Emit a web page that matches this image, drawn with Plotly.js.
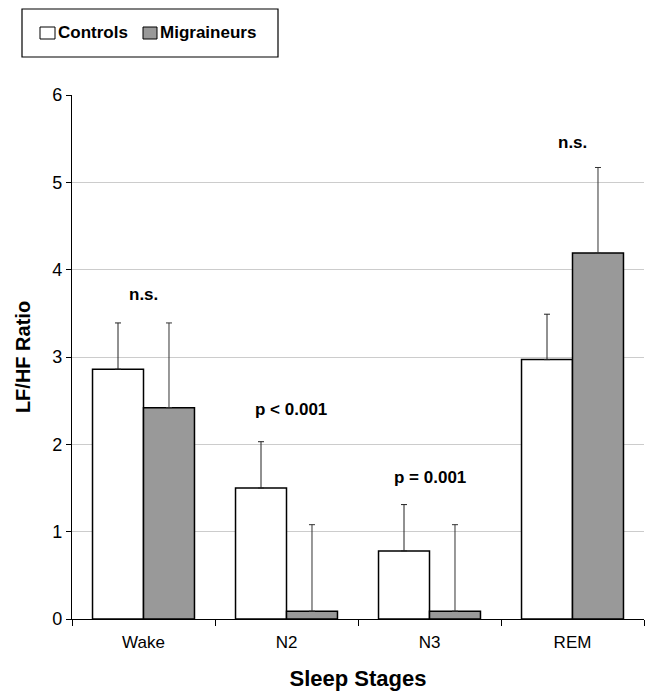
<!DOCTYPE html>
<html>
<head>
<meta charset="utf-8">
<script src="https://cdn.plot.ly/plotly-3.0.1.min.js"></script>
<style>html,body{margin:0;padding:0;background:#fff;}#chart{width:645px;height:696px;}</style>
</head>
<body>
<div id="chart"></div>
<script>
const stages = ["Wake", "N2", "N3", "REM"];
const controls = [2.86, 1.50, 0.78, 2.97];
const controlsErr = [0.53, 0.53, 0.53, 0.52];
const migraineurs = [2.42, 0.09, 0.09, 4.19];
const migraineursErr = [0.97, 0.99, 0.99, 0.98];
const sigLabels = ["n.s.", "p < 0.001", "p = 0.001", "n.s."];
const sigY = [3.72, 2.40, 1.62, 5.46];
const seriesNames = ["Controls", "Migraineurs"];
const seriesColors = ["#ffffff", "#999999"];
const zeros = stages.map(() => 0);

const font = "Liberation Sans, Arial, sans-serif";
const W = 645, H = 696;
const M = {l: 72, r: 1, t: 95, b: 77};
const plotW = W - M.l - M.r, plotH = H - M.t - M.b;
const px = v => (v - M.l) / plotW;          // pixel x -> paper x
const py = v => (H - M.b - v) / plotH;      // pixel y -> paper y

const traces = [
  {
    type: "bar", name: seriesNames[0], x: stages, y: controls, showlegend: false,
    marker: {color: seriesColors[0], line: {color: "#000000", width: 1.5}},
    error_y: {type: "data", symmetric: false, array: controlsErr, arrayminus: zeros,
              color: "#222222", thickness: 1, width: 3}
  },
  {
    type: "bar", name: seriesNames[1], x: stages, y: migraineurs, showlegend: false,
    marker: {color: seriesColors[1], line: {color: "#000000", width: 1.5}},
    error_y: {type: "data", symmetric: false, array: migraineursErr, arrayminus: zeros,
              color: "#333333", thickness: 1, width: 3}
  }
];

const annotations = stages.map((s, i) => ({
  x: s, y: sigY[i], xref: "x", yref: "y", text: sigLabels[i], showarrow: false,
  xshift: i === 1 ? 4 : 0,
  font: {family: font, size: 17, color: "#000", weight: "bold"}
}));

// Legend (boxed, symbols tight against labels as in the reference)
const legendItems = [
  {sq: [40, 55], textX: 56},
  {sq: [143, 157], textX: 158}
];
const shapes = [
  {type: "rect", xref: "paper", yref: "paper", x0: px(22), x1: px(278), y0: py(57), y1: py(9),
   line: {color: "#000", width: 1.2}, fillcolor: "#fff", layer: "above"}
];
legendItems.forEach((it, i) => {
  shapes.push({type: "rect", xref: "paper", yref: "paper", x0: px(it.sq[0]), x1: px(it.sq[1]),
    y0: py(39), y1: py(27), line: {color: "#000", width: 1}, fillcolor: seriesColors[i], layer: "above"});
  annotations.push({xref: "paper", yref: "paper", x: px(it.textX), y: py(33), xanchor: "left", yanchor: "middle",
    text: seriesNames[i], showarrow: false, font: {family: font, size: 17, color: "#000", weight: "bold"}});
});

const layout = {
  width: W, height: H,
  margin: M,
  paper_bgcolor: "#fff", plot_bgcolor: "#fff",
  barmode: "group", bargap: 0.287, bargroupgap: 0,
  font: {family: font, size: 16, color: "#000"},
  showlegend: false,
  xaxis: {
    type: "category", tickson: "boundaries", ticks: "outside", ticklen: 6, tickcolor: "#000",
    showline: true, linecolor: "#000", linewidth: 1.2, showgrid: false,
    ticklabelstandoff: 7,
    tickfont: {family: font, size: 17, color: "#000"},
    title: {text: "Sleep Stages", font: {family: font, size: 22, color: "#000", weight: "bold"}, standoff: 20}
  },
  yaxis: {
    range: [0, 6], dtick: 1, ticks: "outside", ticklen: 5, tickcolor: "#000",
    showline: true, linecolor: "#000", linewidth: 1.2,
    showgrid: true, gridcolor: "#cccccc", gridwidth: 1, zeroline: false,
    tickfont: {family: font, size: 18, color: "#000"},
    title: {text: "LF/HF Ratio", font: {family: font, size: 20, color: "#000", weight: "bold"}, standoff: 16}
  },
  shapes: shapes,
  annotations: annotations
};

Plotly.newPlot("chart", traces, layout, {displayModeBar: false, staticPlot: true});
</script>
</body>
</html>
